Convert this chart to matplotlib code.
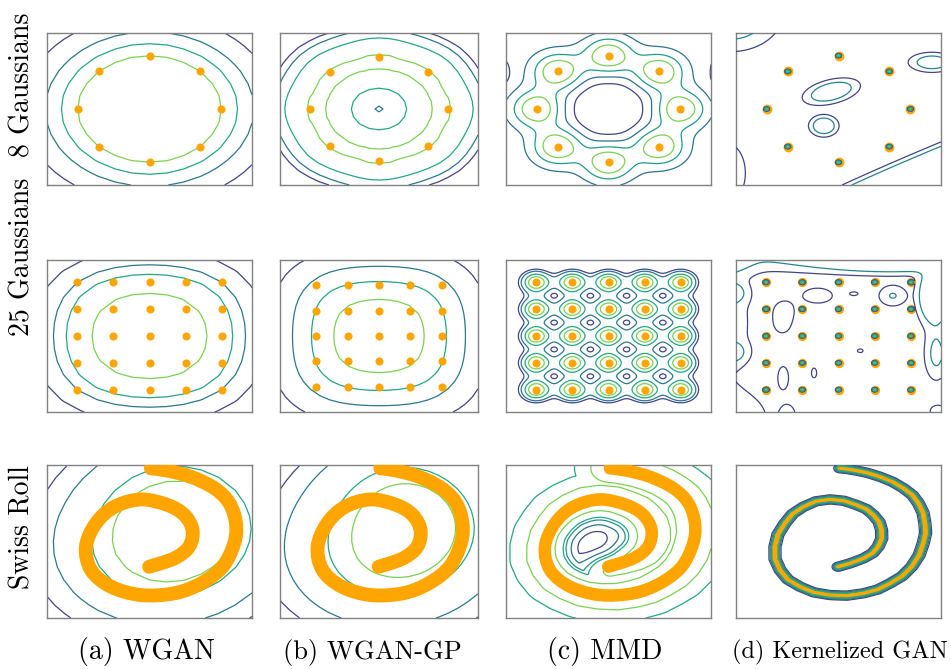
import numpy as np
import matplotlib.pyplot as plt
from matplotlib.path import Path
from matplotlib.patches import PathPatch

plt.rcParams['font.family'] = 'cmr10'
plt.rcParams['mathtext.fontset'] = 'cm'
plt.rcParams['axes.unicode_minus'] = False

col_labels = ['(a) WGAN', '(b) WGAN-GP', '(c) MMD', '(d) Kernelized GAN']
row_labels = ['8 Gaussians', '25 Gaussians', 'Swiss Roll']

# 8 gaussians: centres on a circle of radius 2
ring_x = [0.0, 1.41, 2.0, 1.41, 0.0, -1.41, -2.0, -1.41]
ring_y = [2.0, 1.41, 0.0, -1.41, -2.0, -1.41, 0.0, 1.41]

# 25 gaussians: 5x5 grid
grid_pos = [-4, -2, 0, 2, 4]
grid_x = [x for y in grid_pos for x in grid_pos]
grid_y = [y for y in grid_pos for x in grid_pos]

# swiss roll centre line (inner tip -> outer end)
roll_x = [-0.01, 0.73, 1.16, 1.26, 1.02, 0.53, -0.25, -1.03, -1.57, -1.86, -1.71, -1.13,
          -0.25, 0.73, 1.51, 2.14, 2.48, 2.53, 2.34, 1.90, 1.21, 0.53, 0.04]
roll_y = [-0.99, -0.66, -0.20, 0.45, 1.04, 1.43, 1.65, 1.36, 0.71, -0.20, -1.12, -1.77,
          -2.10, -2.03, -1.64, -0.99, -0.07, 0.71, 1.50, 2.09, 2.54, 2.78, 2.87]

# probe points that each contour passes through, with viridis shade
probes_a1 = [(-2.5, 2.5, 0.2), (-2.1, 2.0, 0.4), (0.0, 2.45, 0.6), (0.0, 2.0, 0.8)]
probes_b1 = [(-2.0, 2.6, 0.2), (0.0, 0.18, 0.4), (0.0, 0.8, 0.6), (0.0, 1.5, 0.8)]
probes_c1 = [(0.0, 0.95, 0.2), (0.0, 1.2, 0.38), (0.0, 1.42, 0.55), (0.0, 2.4, 0.8)]
probes_a2 = [(-5.0, -4.6, 0.2), (0.0, 5.3, 0.4), (0.0, 4.6, 0.6), (0.0, 3.2, 0.8)]
probes_b2 = [(-5.8, -5.0, 0.2), (0.0, 5.5, 0.4), (0.0, 4.3, 0.6), (0.0, 2.9, 0.8)]
probes_c2 = [(-2.82, 3.0, 0.2), (-2.45, 3.0, 0.4), (-3.3, 4.0, 0.6), (-3.55, 4.0, 0.8)]
probes_a3 = [(-2.6, -2.7, 0.2), (-2.62, -1.23, 0.4), (0.7, -2.17, 0.6), (0.01, -1.51, 0.8)]
probes_b3 = [(-2.7, -2.7, 0.2), (-2.6, -1.5, 0.4), (0.6, -2.1, 0.6), (0.0, -1.3, 0.8)]
probes_c3 = [(-0.35, 0.39, 0.2), (-0.35, 0.65, 0.38), (-0.35, 0.84, 0.5),
             (-2.83, 0.19, 0.6), (-2.36, 0.0, 0.8)]

# low pockets of the MMD critic (x, y, sx, sy, angle, weight)
valleys_c1 = [(-2.95, 1.3, 0.2, 0.4, 0, -0.12), (-0.95, 3.05, 0.3, 0.15, 0, -0.12),
              (3.0, 1.25, 0.15, 0.5, 0, -0.12), (-2.95, -1.15, 0.1, 0.17, 0, -0.12),
              (-1.05, -3.0, 0.15, 0.12, 0, -0.12)]

# background bumps of the kernelized critic (x, y, sx, sy, angle, weight)
bumps_d1 = [(-3.0, 3.6, 0.72, 0.72, 0, 0.38), (2.6, 1.75, 0.35, 0.2, 0, 0.3),
            (-0.2, 0.65, 0.42, 0.22, 21, 0.39), (-0.41, -0.63, 0.21, 0.21, 0, 0.39),
            (-3.1, -2.4, 0.385, 0.83, 0, 0.12), (1.97, -2.89, 3.0, 0.344, 30.4, 3.4)]
bumps_d2 = [(-3.2, 6.6, 3.0, 1.0, 0, 0.21), (-6.2, 6.2, 0.9, 0.9, 0, 0.35),
            (3.0, 6.4, 2.6, 0.72, 0, 1.8), (5.3, 3.0, 0.5, 1.2, 0, 0.6),
            (5.4, -1.3, 0.4, 1.2, 0, 0.2), (-6.2, 1.0, 1.0, 3.0, 0, 0.1),
            (-5.9, 3.2, 0.5, 0.5, 0, 0.25), (-5.9, -1.2, 0.5, 0.5, 0, 0.25),
            (-6.0, -6.2, 1.5, 1.5, 0, 0.12), (-2.8, -6.0, 0.35, 0.7, 0, 0.09),
            (5.5, -5.6, 0.4, 0.4, 0, 0.09), (-3.0, 1.9, 0.46, 0.6, 0, 0.09),
            (-1.15, 3.0, 0.74, 0.5, 0, 0.09), (0.85, 3.15, 0.2, 0.12, 0, 0.09),
            (3.0, 3.0, 0.5, 0.5, 45, 0.16), (-3.1, 0.9, 0.37, 0.58, 0, 0.09),
            (1.2, -1.1, 0.14, 0.12, 0, 0.09), (-3.05, -3.1, 0.26, 0.74, 0, 0.09),
            (-1.35, -2.75, 0.13, 0.33, 0, 0.09)]
levels_d = [(0.05, 0.2), (0.15, 0.45), (0.5, 0.65)]
levels_d3 = [(0.04, 0.2), (0.12, 0.38), (0.3, 0.5), (0.45, 0.62)]


def blobs(X, Y, xs, ys, s):
    Z = np.zeros(np.shape(X))
    for x0, y0 in zip(xs, ys):
        Z += np.exp(-((X - x0) ** 2 + (Y - y0) ** 2) / (2 * s * s))
    return Z


def aniso(X, Y, bumps):
    Z = np.zeros(np.shape(X))
    for x0, y0, sx, sy, ang, w in bumps:
        a = np.deg2rad(ang)
        u = (X - x0) * np.cos(a) + (Y - y0) * np.sin(a)
        v = -(X - x0) * np.sin(a) + (Y - y0) * np.cos(a)
        Z += w * np.exp(-(u ** 2 / (2 * sx * sx) + v ** 2 / (2 * sy * sy)))
    return Z


# smooth path through the roll points (Catmull-Rom as cubic Bezier)
P = np.column_stack([roll_x, roll_y])
Q = np.vstack([P[0], P, P[-1]])
verts, codes = [P[0]], [Path.MOVETO]
for i in range(1, len(Q) - 2):
    verts += [Q[i] + (Q[i + 1] - Q[i - 1]) / 6, Q[i + 1] - (Q[i + 2] - Q[i]) / 6, Q[i + 1]]
    codes += [Path.CURVE4] * 3
roll_path = Path(verts, codes)
roll_line = roll_path.to_polygons(closed_only=False)[0]


def line_dist(X, Y, pts):
    d = np.full(np.shape(X), np.inf)
    for (x0, y0), (x1, y1) in zip(pts[:-1], pts[1:]):
        dx, dy = x1 - x0, y1 - y0
        L = dx * dx + dy * dy
        if L == 0:
            continue
        t = np.clip(((X - x0) * dx + (Y - y0) * dy) / L, 0, 1)
        d = np.minimum(d, np.hypot(X - x0 - t * dx, Y - y0 - t * dy))
    return d


def draw(ax, f, lim, n, probes=None, levels=None, z=2):
    X, Y = np.meshgrid(np.linspace(-lim[0], lim[0], n), np.linspace(-lim[1], lim[1], n))
    Z = f(X, Y)
    if probes is not None:
        levels = [(float(f(np.array([px]), np.array([py]))[0]), c) for px, py, c in probes]
    levels = sorted(levels)
    ax.contour(X, Y, Z, levels=[l for l, c in levels],
               colors=[plt.cm.viridis(c) for l, c in levels], linewidths=0.9, zorder=z)
    ax.set_xlim(-lim[0], lim[0])
    ax.set_ylim(-lim[1], lim[1])


def roll_field(X, Y):
    ridge = np.exp(-line_dist(X, Y, roll_line) ** 2 / (2 * 0.5 ** 2))
    return ridge - 0.9 * blobs(X, Y, [-0.45], [-0.2], 0.75)


W, H = 951, 669
fig = plt.figure(figsize=(W / 100, H / 100), dpi=100)
col_left = [47, 280, 506, 736]
col_width = [205, 198, 205, 205]
row_top = [33, 260, 465]
row_height = [152, 152, 153]
axes = [[fig.add_axes([col_left[j] / W, 1 - (row_top[i] + row_height[i]) / H,
                       col_width[j] / W, row_height[i] / H]) for j in range(4)] for i in range(3)]

# row 1: 8 gaussians
draw(axes[0][0], lambda X, Y: blobs(X, Y, ring_x, ring_y, 1.6), (2.85, 2.85), 13, probes_a1)
draw(axes[0][1], lambda X, Y: blobs(X, Y, ring_x, ring_y, 0.85), (2.85, 2.9), 21, probes_b1)
draw(axes[0][2], lambda X, Y: blobs(X, Y, ring_x, ring_y, 0.5) - 0.3 * blobs(X, Y, [0], [0], 0.9)
     + aniso(X, Y, valleys_c1), (2.85, 2.85), 200, probes_c1)
draw(axes[0][3], lambda X, Y: blobs(X, Y, ring_x, ring_y, 0.035)
     + np.minimum(aniso(X, Y, bumps_d1), 0.3), (2.85, 2.85), 600, levels=levels_d, z=4)
for j in range(4):
    axes[0][j].scatter(ring_x, ring_y, s=50 if j == 3 else 34, color='orange',
                       linewidths=0, zorder=3)

# row 2: 25 gaussians
draw(axes[1][0], lambda X, Y: blobs(X, Y, grid_x, grid_y, 2.6), (5.66, 5.66), 13, probes_a2)
draw(axes[1][1], lambda X, Y: blobs(X, Y, grid_x, grid_y, 2.2), (6.3, 6.0), 21, probes_b2)
draw(axes[1][2], lambda X, Y: blobs(X, Y, grid_x, grid_y, 0.6), (5.66, 5.66), 250, probes_c2)
draw(axes[1][3], lambda X, Y: blobs(X, Y, grid_x, grid_y, 0.07)
     + np.minimum(aniso(X, Y, bumps_d2), 0.3), (5.66, 5.66), 600, levels=levels_d, z=4)
for j in range(4):
    axes[1][j].scatter(grid_x, grid_y, s=45 if j == 3 else 34, color='orange',
                       linewidths=0, zorder=3)

# row 3: swiss roll
draw(axes[2][0], lambda X, Y: blobs(X, Y, roll_x, roll_y, 1.8), (3, 3), 13, probes_a3)
draw(axes[2][1], lambda X, Y: blobs(X, Y, roll_x, roll_y, 1.6), (3, 3), 21, probes_b3)
draw(axes[2][2], roll_field, (3, 3), 200, probes_c3)
draw(axes[2][3], lambda X, Y: np.exp(-line_dist(X, Y, roll_line) ** 2 / (2 * 0.07 ** 2)),
     (3, 3), 500, levels=levels_d3, z=4)
for j, lw in enumerate([10, 10, 9, 7]):
    axes[2][j].add_patch(PathPatch(roll_path, fill=False, edgecolor='orange', lw=lw,
                                   capstyle='round', joinstyle='round', zorder=3))

for row in axes:
    for ax in row:
        ax.set_xticks([])
        ax.set_yticks([])
        for sp in ax.spines.values():
            sp.set_color('#808080')
            sp.set_linewidth(1.0)

col_x = [146, 372, 605, 840]
col_size = [20, 19, 20, 17.5]
for x, t, fs in zip(col_x, col_labels, col_size):
    fig.text(x / W, 1 - 652 / H, t, ha='center', va='center', fontsize=fs)
row_y = [85, 257, 527]
for y, t in zip(row_y, row_labels):
    fig.text(22 / W, 1 - y / H, t, ha='center', va='center', rotation=90, fontsize=20)

fig.savefig('out.png', dpi=100)
